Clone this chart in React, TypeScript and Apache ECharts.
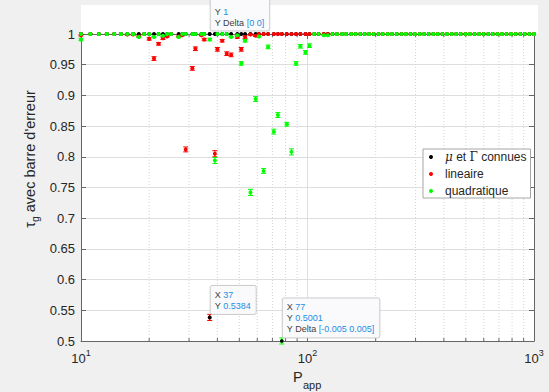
import React, { useEffect, useRef } from 'react';
import * as echarts from 'echarts';

// ---------- data ----------
const pApp = [
  10, 10, 11, 11, 12, 13, 13, 14, 15, 15,
  16, 17, 17, 18, 19, 20, 21, 22, 23, 24,
  25, 27, 28, 29, 31, 32, 34, 35, 37, 39,
  40, 42, 44, 46, 49, 51, 53, 56, 59, 61,
  64, 67, 71, 74, 77, 81, 85, 89, 93, 98,
  102, 107, 112, 118, 123, 129, 135, 142, 148, 156,
  163, 171, 179, 187, 196, 206, 215, 226, 236, 248,
  260, 272, 285, 298, 313, 327, 343, 359, 376, 394,
  413, 433, 453, 475, 498, 521, 546, 572, 599, 628,
  658, 689, 722, 756, 792, 830, 870, 911, 955, 1000,
];

const knownY = [
  1, 1, 1, 1, 1, 1, 1, 1, 1, 1,
  1, 1, 1, 1, 1, 1, 1, 1, 1, 1,
  1, 1, 1, 1, 1, 1, 1, 1, 1, 1,
  1, 1, 1, 1, 1, 1, 1, 1, 1, 1,
  1, 1, 1, 1, 1, 1, 1, 1, 1, 1,
  1, 1, 1, 1, 1, 1, 1, 1, 1, 1,
  1, 1, 1, 1, 1, 1, 1, 1, 1, 1,
  1, 1, 1, 1, 1, 1, 1, 1, 1, 1,
  1, 1, 1, 1, 1, 1, 1, 1, 1, 1,
  1, 1, 1, 1, 1, 1, 1, 1, 1, 1,
];

const linY = [
  0.998, 1, 1, 1, 1, 1, 1, 1, 1, 1,
  0.999, 0.999, 1, 0.996, 1, 0.992, 0.960, 0.984, 0.993, 0.996,
  1, 0.996, 0.998, 0.812, 0.944, 0.976, 0.998, 0.991, 0.5384, 0.805,
  0.975, 0.989, 0.968, 0.966, 0.995, 0.975, 0.995, 0.999, 0.997, 1,
  1, 1, 1, 1, 1, 1, 1, 1, 1, 1,
  1, 1, 1, 1, 1, 1, 1, 1, 1, 1,
  1, 1, 1, 1, 1, 1, 1, 1, 1, 1,
  1, 1, 1, 1, 1, 1, 1, 1, 1, 1,
  1, 1, 1, 1, 1, 1, 1, 1, 1, 1,
  1, 1, 1, 1, 1, 1, 1, 1, 1, 1,
];

const linErr = [
  0.001, 0, 0, 0, 0, 0, 0, 0, 0, 0,
  0.001, 0.001, 0, 0.001, 0, 0.002, 0.003, 0.002, 0.002, 0.001,
  0, 0.001, 0.001, 0.004, 0.003, 0.003, 0.001, 0.002, 0.005, 0.005,
  0.003, 0.002, 0.003, 0.003, 0.002, 0.003, 0.002, 0.001, 0.001, 0,
  0, 0, 0, 0, 0, 0, 0, 0, 0, 0,
  0, 0, 0, 0, 0, 0, 0, 0, 0, 0,
  0, 0, 0, 0, 0, 0, 0, 0, 0, 0,
  0, 0, 0, 0, 0, 0, 0, 0, 0, 0,
  0, 0, 0, 0, 0, 0, 0, 0, 0, 0,
  0, 0, 0, 0, 0, 0, 0, 0, 0, 0,
];

const quadY = [
  0.991, 1, 1, 1, 1, 1, 1, 1, 1, 1,
  1, 1, 1, 0.995, 1, 1, 0.995, 1, 0.997, 1,
  1, 0.995, 1, 1, 1, 1, 1, 1, 0.991, 0.794,
  1, 1, 1, 0.995, 0.998, 0.952, 0.989, 0.742, 0.894, 0.996,
  0.777, 0.979, 0.841, 0.868, 0.5001, 0.853, 0.808, 0.952, 0.980, 0.970,
  0.981, 1, 1, 0.998, 0.998, 1, 1, 1, 1, 1,
  1, 1, 1, 1, 1, 1, 1, 1, 1, 1,
  1, 1, 1, 1, 1, 1, 1, 1, 1, 1,
  1, 1, 1, 1, 1, 1, 1, 1, 1, 1,
  1, 1, 1, 1, 1, 1, 1, 1, 1, 1,
];

const quadErr = [
  0.002, 0, 0, 0, 0, 0, 0, 0, 0, 0,
  0, 0, 0, 0.001, 0, 0, 0.001, 0, 0.001, 0,
  0, 0.001, 0, 0, 0, 0, 0, 0, 0.002, 0.005,
  0, 0, 0, 0.001, 0.001, 0.003, 0.002, 0.005, 0.004, 0.001,
  0.004, 0.003, 0.004, 0.004, 0.005, 0.003, 0.005, 0.003, 0.003, 0.003,
  0.003, 0, 0, 0.001, 0.001, 0, 0, 0, 0, 0,
  0, 0, 0, 0, 0, 0, 0, 0, 0, 0,
  0, 0, 0, 0, 0, 0, 0, 0, 0, 0,
  0, 0, 0, 0, 0, 0, 0, 0, 0, 0,
  0, 0, 0, 0, 0, 0, 0, 0, 0, 0,
];

const seriesNames = ['μ et Γ connues', 'lineaire', 'quadratique'];
const minorTickValues = [20, 30, 40, 50, 60, 70, 80, 90, 200, 300, 400, 500, 600, 700, 800, 900];

const dataTips = [
  { x: 37, y: 1, hiddenRows: 1, rows: [['Y', '1'], ['Y Delta', '[0 0]']] },
  { x: 37, y: 0.5384, hiddenRows: 0, rows: [['X', '37'], ['Y', '0.5384']] },
  { x: 77, y: 0.5001, hiddenRows: 0, rows: [['X', '77'], ['Y', '0.5001'], ['Y Delta', '[-0.005 0.005]']] },
];

// ---------- styles ----------
const FONT = '"Liberation Sans", Arial, Helvetica, sans-serif';
const SERIF = '"DejaVu Serif", "Liberation Serif", serif';
const AXIS = '#666666';
const TEXT = '#262626';
const COLORS = ['#000000', '#ff0000', '#00ff00'];

function errorSeries(ys: number[], errs: number[], color: string) {
  const data = pApp
    .map((x, i) => [x, ys[i] - errs[i], ys[i] + errs[i]])
    .filter((d) => d[2] > d[1]);
  return {
    type: 'custom',
    silent: true,
    clip: false,
    data,
    encode: { x: 0, y: [1, 2] },
    renderItem: (params: any, api: any) => {
      const x = api.value(0);
      const lo = api.coord([x, api.value(1)]);
      const hi = api.coord([x, api.value(2)]);
      const w = 2.5;
      const st = { stroke: color, lineWidth: 1 };
      return {
        type: 'group',
        children: [
          { type: 'line', shape: { x1: lo[0], y1: lo[1], x2: hi[0], y2: hi[1] }, style: st },
          { type: 'line', shape: { x1: lo[0] - w, y1: lo[1], x2: lo[0] + w, y2: lo[1] }, style: st },
          { type: 'line', shape: { x1: hi[0] - w, y1: hi[1], x2: hi[0] + w, y2: hi[1] }, style: st },
        ],
      };
    },
  };
}

function scatterSeries(name: string, ys: number[], color: string) {
  return {
    type: 'scatter',
    name,
    clip: false,
    symbol: 'circle',
    symbolSize: 4,
    itemStyle: { color, opacity: 1 },
    data: pApp.map((x, i) => [x, ys[i]]),
  };
}

export default function App() {
  const ref = useRef<HTMLDivElement>(null);

  useEffect(() => {
    const chart = echarts.init(ref.current!, null, { renderer: 'svg' });

    const yFmt = (v: number) => (v > 1.0001 ? '' : String(+v.toFixed(2)));

    const option: any = {
      animation: false,
      backgroundColor: '#f0f0f0',
      textStyle: { fontFamily: FONT },
      grid: { left: 81, right: 15, top: 34, bottom: 51, show: true, backgroundColor: '#ffffff', borderWidth: 0 },
      xAxis: [
        {
          type: 'log', logBase: 10, min: 10, max: 1000, position: 'bottom',
          axisLine: { show: true, lineStyle: { color: AXIS } },
          axisTick: { show: true, inside: true, length: 5, lineStyle: { color: AXIS } },
          axisLabel: {
            margin: 7,
            formatter: (v: number) => `{b|10}{s|${Math.round(Math.log10(v))}}`,
            rich: {
              b: { fontSize: 13, lineHeight: 20, color: TEXT, fontFamily: FONT },
              s: { fontSize: 9, lineHeight: 10, verticalAlign: 'top', color: TEXT, fontFamily: FONT },
            },
          },
          splitLine: { show: true, lineStyle: { color: '#dedede' } },
        },
        {
          type: 'log', logBase: 10, min: 10, max: 1000, position: 'top',
          axisLine: { show: true, lineStyle: { color: AXIS } },
          axisTick: { show: true, inside: true, length: 5, lineStyle: { color: AXIS } },
          axisLabel: { show: false },
          splitLine: { show: false },
        },
      ],
      yAxis: [
        {
          type: 'value', min: 0.5, max: 1, interval: 0.05, position: 'left',
          axisLine: { show: true, lineStyle: { color: AXIS } },
          axisTick: { show: true, inside: true, length: 5, lineStyle: { color: AXIS } },
          axisLabel: { margin: 6, fontSize: 13, color: TEXT, fontFamily: FONT, formatter: yFmt },
          splitLine: { show: true, lineStyle: { color: '#dedede' } },
        },
        {
          type: 'value', min: 0.5, max: 1, interval: 0.05, position: 'right',
          axisLine: { show: true, lineStyle: { color: AXIS } },
          axisTick: { show: true, inside: true, length: 5, lineStyle: { color: AXIS } },
          axisLabel: { show: false },
          splitLine: { show: false },
        },
      ],
      legend: {
        orient: 'vertical',
        left: 423,
        top: 149,
        data: seriesNames,
        icon: 'circle',
        itemWidth: 18,
        itemHeight: 4,
        itemGap: 3,
        padding: [1, 4, 0, 6],
        backgroundColor: '#ffffff',
        borderColor: '#a6a6a6',
        borderWidth: 1,
        selectedMode: false,
        formatter: (name: string) => (name === seriesNames[0] ? '{m|μ} et {g|Γ} connues' : name),
        textStyle: {
          fontSize: 12, lineHeight: 14, color: TEXT, fontFamily: FONT,
          rich: {
            m: { fontSize: 12, fontStyle: 'italic', fontFamily: SERIF, color: TEXT },
            g: { fontSize: 12, fontFamily: SERIF, color: TEXT },
          },
        },
      },
      series: [
        {
          type: 'custom',
          silent: true,
          z: 1,
          data: minorTickValues.map((v) => [v, 0.75]),
          encode: { x: 0, y: 1 },
          renderItem: (params: any, api: any) => {
            const cs = params.coordSys;
            const x = api.coord([api.value(0), 0.75])[0];
            const top = cs.y;
            const bot = cs.y + cs.height;
            return {
              type: 'group',
              children: [
                { type: 'line', shape: { x1: x, y1: top, x2: x, y2: bot }, style: { stroke: '#d4d4d4', lineWidth: 1, lineDash: [1, 2] } },
                { type: 'line', shape: { x1: x, y1: bot, x2: x, y2: bot - 3 }, style: { stroke: AXIS, lineWidth: 1 } },
                { type: 'line', shape: { x1: x, y1: top, x2: x, y2: top + 3 }, style: { stroke: AXIS, lineWidth: 1 } },
              ],
            };
          },
        },
        scatterSeries(seriesNames[0], knownY, COLORS[0]),
        errorSeries(linY, linErr, COLORS[1]),
        scatterSeries(seriesNames[1], linY, COLORS[1]),
        errorSeries(quadY, quadErr, COLORS[2]),
        scatterSeries(seriesNames[2], quadY, COLORS[2]),
      ],
    };

    chart.setOption(option);

    // measure text for tip boxes
    const ctx = document.createElement('canvas').getContext('2d')!;
    ctx.font = `9px ${FONT}`;
    const LH = 11;

    const tipEls: any[] = [];
    dataTips.forEach((t) => {
      const [ax, ay] = chart.convertToPixel({ xAxisIndex: 0, yAxisIndex: 0 }, [t.x, t.y]) as number[];
      const w = Math.max(...t.rows.map((r) => ctx.measureText(`${r[0]} ${r[1]}`).width)) + 10;
      const h = (t.rows.length + t.hiddenRows) * LH + 7;
      const left = ax + 0.5;
      const bottom = ay - 3;
      const top = bottom - h;
      tipEls.push({
        type: 'rect', z: 100,
        shape: { x: left, y: top, width: w, height: h, r: 2 },
        style: { fill: 'rgba(250,250,252,0.95)', stroke: '#c9c9c9', lineWidth: 1 },
      });
      tipEls.push({
        type: 'text', z: 101,
        x: left + 4.5, y: top + 4 + t.hiddenRows * LH,
        style: {
          text: t.rows.map((r) => `{k|${r[0]} }{v|${r[1]}}`).join('\n'),
          align: 'left', textAlign: 'left', verticalAlign: 'top', textVerticalAlign: 'top',
          rich: {
            k: { fontSize: 9, lineHeight: LH, fill: '#404040', color: '#404040', fontFamily: FONT },
            v: { fontSize: 9, lineHeight: LH, fill: '#1a8fe3', color: '#1a8fe3', fontFamily: FONT },
          },
        },
      });
      tipEls.push({
        type: 'circle', z: 102,
        shape: { cx: ax, cy: ay, r: 1.8 },
        style: { fill: '#000000' },
      });
    });

    chart.setOption({
      graphic: [
        { type: 'rect', z: 0, shape: { x: 81, y: 5, width: 457, height: 29 }, style: { fill: '#ffffff' } },
        {
          type: 'text', z: 10, x: 30, y: 159, rotation: Math.PI / 2,
          style: {
            text: "{t|τ}{g|g}{a| avec barre d'erreur}",
            align: 'center', textAlign: 'center', verticalAlign: 'middle', textVerticalAlign: 'middle',
            rich: {
              t: { fontSize: 14.5, lineHeight: 20, fill: TEXT, fontFamily: FONT },
              g: { fontSize: 10.5, lineHeight: 12, verticalAlign: 'bottom', fill: TEXT, fontFamily: FONT },
              a: { fontSize: 14.5, lineHeight: 20, fill: TEXT, fontFamily: FONT },
            },
          },
        },
        {
          type: 'text', z: 10, x: 293, y: 377,
          style: { text: 'P', fontSize: 14.5, fontFamily: FONT, fill: TEXT, align: 'left', textAlign: 'left', verticalAlign: 'middle', textVerticalAlign: 'middle' },
        },
        {
          type: 'text', z: 10, x: 303, y: 385,
          style: { text: 'app', fontSize: 11, fontFamily: FONT, fill: TEXT, align: 'left', textAlign: 'left', verticalAlign: 'middle', textVerticalAlign: 'middle' },
        },
        ...tipEls,
      ],
    });

    return () => chart.dispose();
  }, []);

  return <div ref={ref} style={{ position: 'absolute', left: 0, top: 0, width: 549, height: 392 }} />;
}
